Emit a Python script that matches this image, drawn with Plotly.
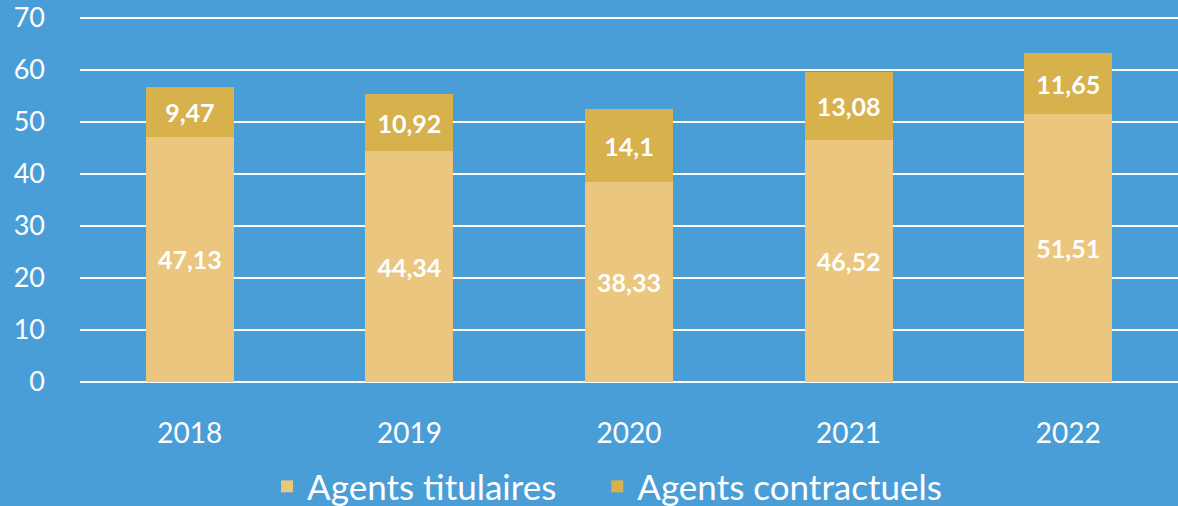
import plotly.graph_objects as go

years = ["2018", "2019", "2020", "2021", "2022"]
titulaires = [47.13, 44.34, 38.33, 46.52, 51.51]
contractuels = [9.47, 10.92, 14.1, 13.08, 11.65]
y_ticks = [0, 10, 20, 30, 40, 50, 60, 70]

def fr(v):
    return f"{v:g}".replace(".", ",")

bg = "#4a9ed7"
col_tit = "#eac67e"
col_con = "#d6b14c"
font = "Lato"

fig = go.Figure()
fig.add_trace(go.Bar(
    x=years, y=titulaires, name="Agents titulaires\u00a0\u00a0\u00a0\u00a0",
    marker=dict(color=col_tit, line=dict(width=0)),
    text=[fr(v) for v in titulaires], textposition="inside",
    insidetextanchor="middle", textangle=0,
    textfont=dict(color="white", size=25, family=font, weight="bold"),
))
fig.add_trace(go.Bar(
    x=years, y=contractuels, name="Agents contractuels",
    marker=dict(color=col_con, line=dict(width=0)),
    text=[fr(v) for v in contractuels], textposition="inside",
    insidetextanchor="middle", textangle=0,
    textfont=dict(color="white", size=25, family=font, weight="bold"),
))

fig.update_layout(
    barmode="stack",
    bargap=0.6,
    width=1178, height=506,
    margin=dict(l=80, r=0, t=15, b=124, autoexpand=False),
    paper_bgcolor=bg, plot_bgcolor=bg,
    font=dict(family=font, color="white"),
    uniformtext=dict(mode="show", minsize=25),
    showlegend=True,
    legend=dict(orientation="h", x=0.48, xanchor="center", y=-0.285, yanchor="middle",
                font=dict(size=35, color="white"), itemwidth=30,
                traceorder="normal", bgcolor="rgba(0,0,0,0)"),
    xaxis=dict(showgrid=False, showline=False, ticks="",
               tickfont=dict(size=28, color="white"), ticklabelstandoff=32),
    yaxis=dict(range=[0, 70.5], tickvals=y_ticks, showgrid=True, gridcolor="white",
               gridwidth=2, zeroline=True, zerolinecolor="white", zerolinewidth=2,
               tickfont=dict(size=27, color="white"), ticklabelstandoff=34),
)

fig.write_html("out.html", config={"displayModeBar": False},
               post_script="document.body.style.margin='0';document.body.style.overflow='hidden';")
